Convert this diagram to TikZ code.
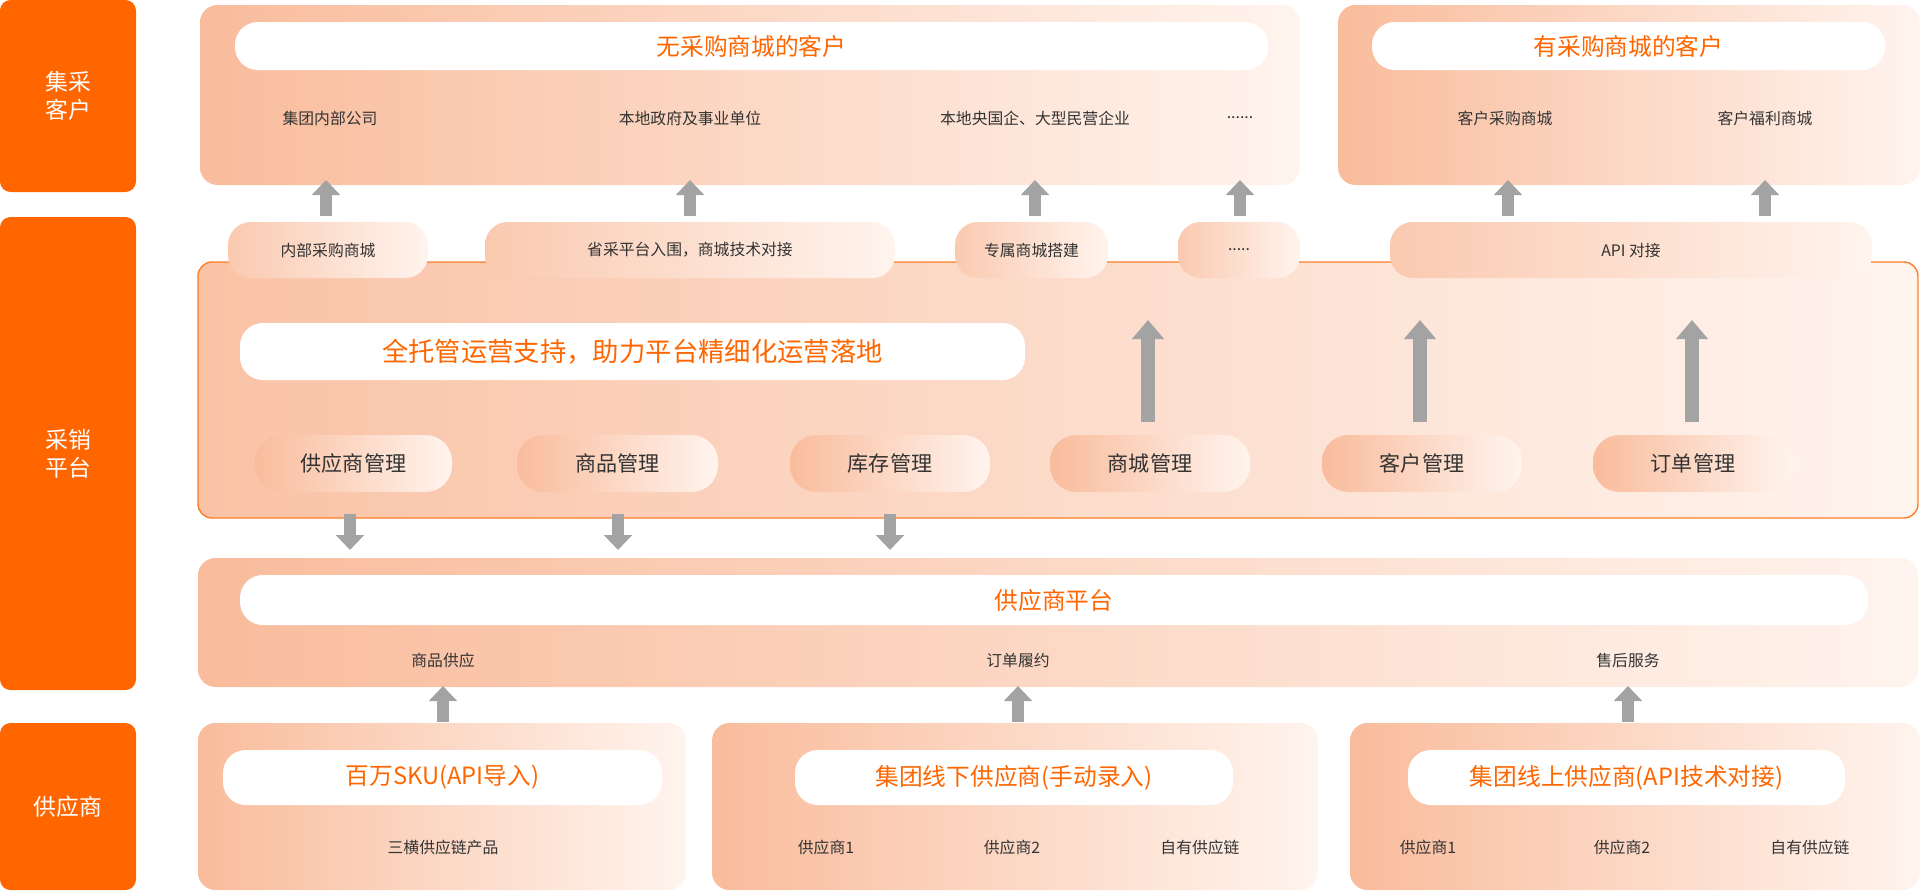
\documentclass[tikz,border=0pt]{standalone}
\usepackage{fontspec}
\setmainfont{Noto Sans CJK SC}
\usetikzlibrary{arrows.meta}
\definecolor{brand}{HTML}{FF6600}
\definecolor{panelL}{HTML}{F9BC9C}
\definecolor{panelR}{HTML}{FFF4EE}
\definecolor{arrowgray}{HTML}{A3A3A3}
\definecolor{itemtext}{HTML}{333333}
\tikzset{
  every node/.style={inner sep=0pt, outer sep=0pt},
  sidelabel/.style={fill=brand, rounded corners=6pt, text=white, font=\fontsize{13}{16}\selectfont, align=center},
  panel/.style={rounded corners=10pt, left color=panelL, right color=panelR},
  pill/.style={fill=white, rounded corners=13pt, text=brand, font=\fontsize{13.5}{16}\selectfont},
  tab/.style={rounded corners=13pt, left color=panelL!80, right color=panelR, text=itemtext, font=\fontsize{9}{11}\selectfont},
  module/.style={rounded corners=15pt, left color=panelL, right color=panelR, text=itemtext, font=\fontsize{12}{14}\selectfont},
  item/.style={text=itemtext, font=\fontsize{9}{11}\selectfont},
  uparrow/.style={draw=arrowgray, line width=0.24cm, -{Triangle[length=0.3cm,width=0.55cm]}},
  bigarrow/.style={draw=arrowgray, line width=0.28cm, -{Triangle[length=0.38cm,width=0.62cm]}}
}
% box from corner (x1,y1) to (x2,y2), in pixels
\newcommand{\boxat}[7]{\node[#2, minimum width={(#5-#3)*0.02cm}, minimum height={(#6-#4)*0.02cm}] (#1) at ({(#3+#5)/2},{(#4+#6)/2}) {#7};}
\begin{document}
\begin{tikzpicture}[x=0.02cm, y=-0.02cm]
  \useasboundingbox (0,0) rectangle (1920,890);

  % left labels
  \boxat{lblbuyer}{sidelabel}{0}{0}{136}{192}{集采\\客户}
  \boxat{lblplat}{sidelabel}{0}{217}{136}{690}{采销\\平台}
  \boxat{lblsup}{sidelabel}{0}{723}{136}{890}{供应商}

  % buyers
  \boxat{nomall}{panel}{200}{5}{1300}{185}{}
  \boxat{nomallpill}{pill}{235}{22}{1268}{70}{无采购商城的客户}
  \node[item] (b1) at (330,118) {集团内部公司};
  \node[item] (b2) at (690,118) {本地政府及事业单位};
  \node[item] (b3) at (1035,118) {本地央国企、大型民营企业};
  \node[item] (b4) at (1240,118) {......};
  \boxat{hasmall}{panel}{1338}{5}{1920}{185}{}
  \boxat{hasmallpill}{pill}{1372}{22}{1885}{70}{有采购商城的客户}
  \node[item] (b5) at (1505,118) {客户采购商城};
  \node[item] (b6) at (1765,118) {客户福利商城};

  \foreach \x in {326,690,1035,1240,1508,1765}
    \draw[uparrow] (\x,216) -- (\x,180);

  % platform
  \boxat{platform}{draw=brand!85, line width=0.8pt, rounded corners=8pt, left color=panelL!90, right color=panelR}{198}{262}{1918}{518}{}
  \boxat{t1}{tab}{228}{222}{428}{278}{内部采购商城}
  \boxat{t2}{tab}{485}{222}{895}{278}{省采平台入围，商城技术对接}
  \boxat{t3}{tab}{955}{222}{1108}{278}{专属商城搭建}
  \boxat{t4}{tab}{1178}{222}{1300}{278}{.....}
  \boxat{t5}{tab}{1390}{222}{1872}{278}{API 对接}
  \boxat{svc}{pill}{240}{323}{1025}{380}{\fontsize{15}{18}\selectfont 全托管运营支持，助力平台精细化运营落地}
  \boxat{m1}{module}{255}{435}{452}{492}{供应商管理}
  \boxat{m2}{module}{517}{435}{718}{492}{商品管理}
  \boxat{m3}{module}{790}{435}{990}{492}{库存管理}
  \boxat{m4}{module}{1050}{435}{1250}{492}{商城管理}
  \boxat{m5}{module}{1322}{435}{1522}{492}{客户管理}
  \boxat{m6}{module}{1593}{435}{1793}{492}{订单管理}
  \foreach \x in {1148,1420,1692}
    \draw[bigarrow] (\x,422) -- (\x,320);

  \foreach \x in {350,618,890}
    \draw[uparrow] (\x,514) -- (\x,550);

  % supplier platform
  \boxat{supplat}{panel}{198}{558}{1918}{687}{}
  \boxat{supplatpill}{pill}{240}{575}{1868}{625}{供应商平台}
  \node[item] (s1) at (443,660) {商品供应};
  \node[item] (s2) at (1018,660) {订单履约};
  \node[item] (s3) at (1628,660) {售后服务};
  \foreach \x in {443,1018,1628}
    \draw[uparrow] (\x,722) -- (\x,686);

  % suppliers
  \boxat{sku}{panel}{198}{723}{686}{890}{}
  \boxat{skupill}{pill}{223}{750}{662}{805}{百万SKU(API导入)}
  \node[item] (p1) at (443,847) {三横供应链产品};
  \boxat{offline}{panel}{712}{723}{1318}{890}{}
  \boxat{offlinepill}{pill}{795}{750}{1233}{805}{集团线下供应商(手动录入)}
  \node[item] (p2) at (826,847) {供应商1};
  \node[item] (p3) at (1012,847) {供应商2};
  \node[item] (p4) at (1200,847) {自有供应链};
  \boxat{online}{panel}{1350}{723}{1920}{890}{}
  \boxat{onlinepill}{pill}{1408}{750}{1845}{805}{集团线上供应商(API技术对接)}
  \node[item] (p5) at (1428,847) {供应商1};
  \node[item] (p6) at (1622,847) {供应商2};
  \node[item] (p7) at (1810,847) {自有供应链};
\end{tikzpicture}
\end{document}
